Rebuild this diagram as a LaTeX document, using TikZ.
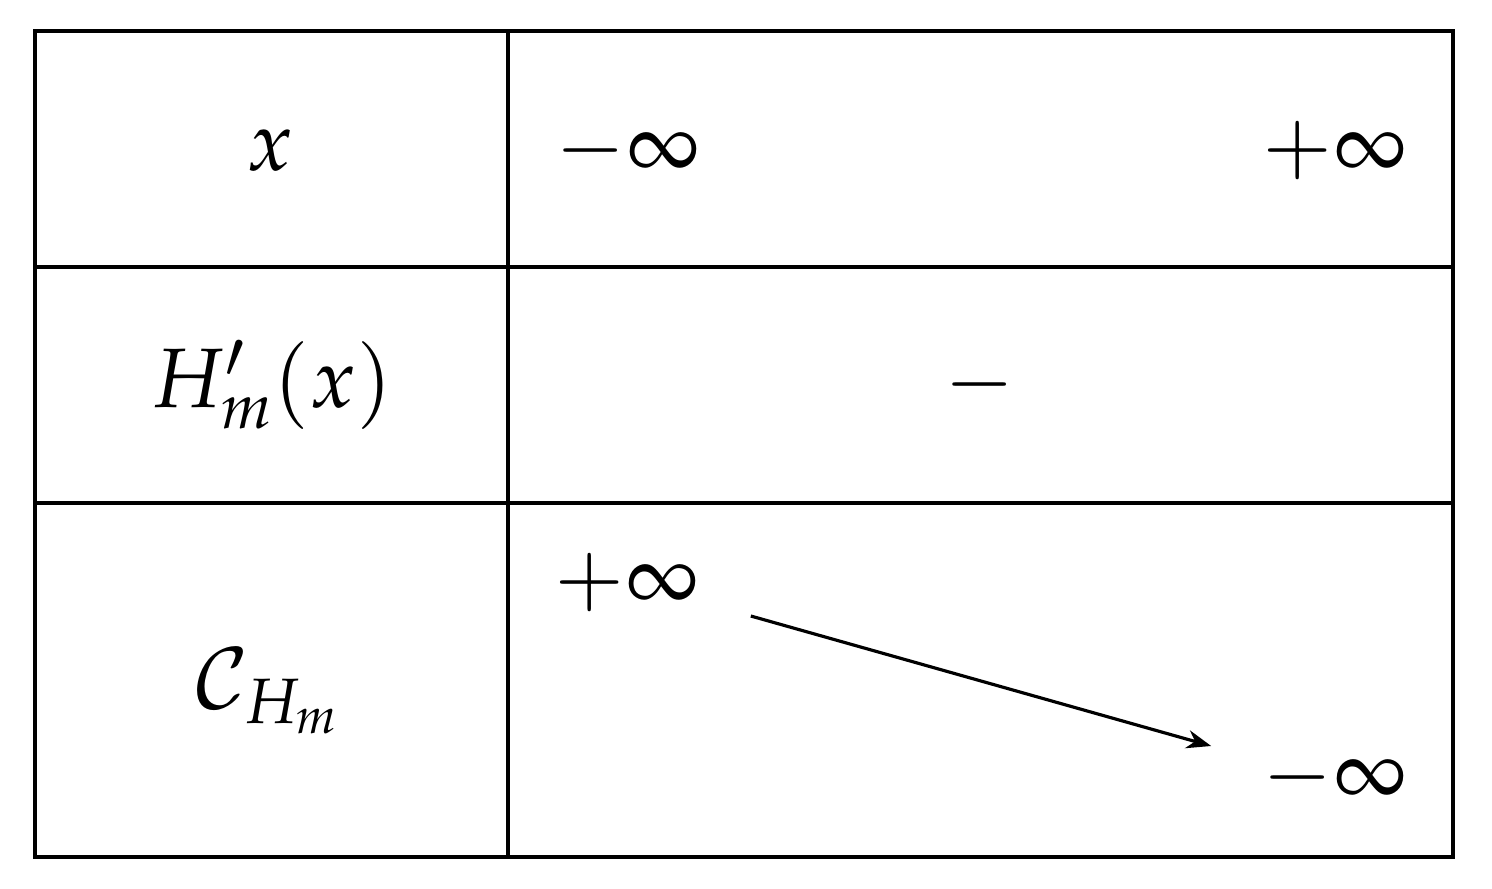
\documentclass[tikz,border=0pt]{standalone}
\usepackage{mathpazo}
\usetikzlibrary{arrows.meta}
\begin{document}
\begin{tikzpicture}[line width=0.9pt,font=\fontsize{24}{28}\selectfont]
  \tikzstyle{cell}=[inner sep=0pt]
  \useasboundingbox (0,0) rectangle (14.92,8.88);
  \draw (0.35,0.31) rectangle (14.53,8.57);
  \draw (5.08,0.31) -- (5.08,8.57);
  \draw (0.35,6.21) -- (14.53,6.21);
  \draw (0.35,3.85) -- (14.53,3.85);

  \node[cell] (x) at (2.70,7.37) {$x$};
  \node[cell] (xl) at (6.28,7.37) {$-\infty$};
  \node[cell] (xr) at (13.35,7.37) {$+\infty$};
  \node[cell] (d) at (2.72,5.03) {$H'_m(x)$};
  \node[cell] (ds) at (9.80,5.03) {$-$};
  \node[cell] (c) at (2.68,1.97) {$\mathcal{C}_{H_m}$};
  \node[cell] (ct) at (6.27,3.05) {$+\infty$};
  \node[cell] (cb) at (13.35,1.10) {$-\infty$};
  \draw[-{Stealth[length=7pt]}] ([xshift=0.5cm,yshift=-0.33cm]ct.east) -- ([xshift=-0.5cm,yshift=0.32cm]cb.west);
\end{tikzpicture}
\end{document}
